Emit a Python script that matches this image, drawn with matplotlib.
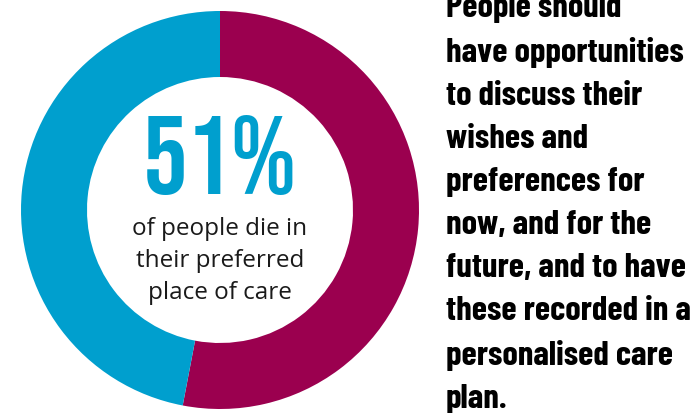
import matplotlib.pyplot as plt

# share of people dying in their preferred place of care (drawn ring proportion)
labels = ['Preferred place', 'Elsewhere']
values = [53, 47]
colors = ['#9B004F', '#009FCE']

headline = '51%'
caption = 'of people die in\ntheir preferred\nplace of care'
message = ('People should\nhave opportunities\nto discuss their\nwishes and\n'
           'preferences for\nnow, and for the\nfuture, and to have\n'
           'these recorded in a\npersonalised care\nplan.')

fig = plt.figure(figsize=(6.91, 4.14), dpi=100)
ax = fig.add_axes([0, 0, 1, 1])
ax.pie(values, colors=colors, radius=199, center=(220, 203),
       startangle=90, counterclock=False,
       wedgeprops=dict(width=66, linewidth=0))
ax.set_xlim(0, 691)
ax.set_ylim(0, 414)
ax.set_aspect('equal')
ax.axis('off')

ax.text(220, 259, headline, ha='center', va='center', color='#009FCE',
        fontsize=80, family=['Bebas Neue', 'DejaVu Sans'])
ax.text(220, 153, caption, ha='center', va='center', color='#1a1a1a',
        fontsize=17.5, family=['Open Sans', 'DejaVu Sans'],
        linespacing=1.42)
ax.text(446, 421, message, ha='left', va='top', color='black',
        fontsize=25, fontweight='bold', family=['Barlow Condensed', 'DejaVu Sans'],
        linespacing=1.545)

fig.savefig('out.png', dpi=100)
